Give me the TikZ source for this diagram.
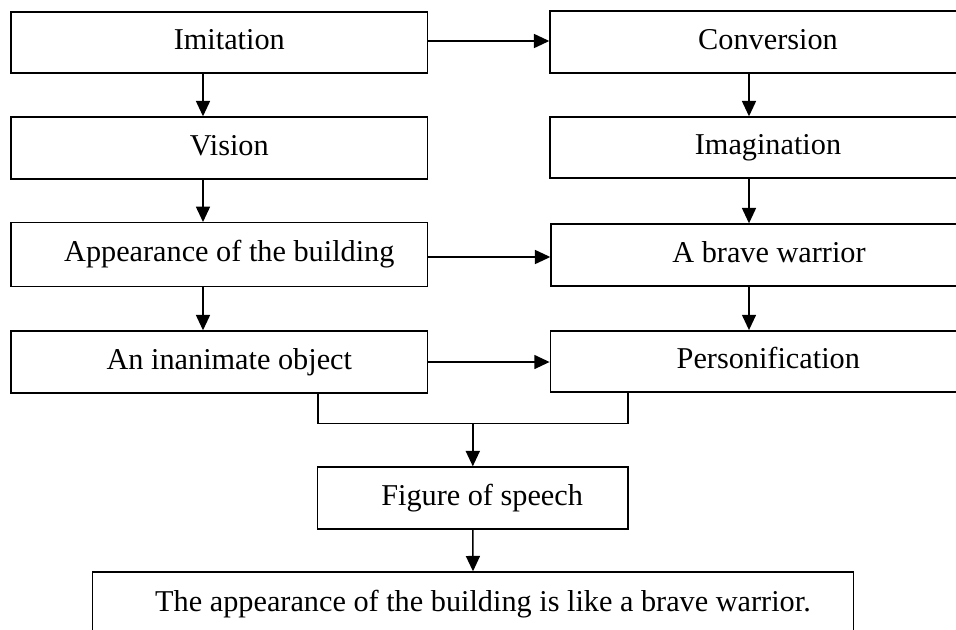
\documentclass[tikz,border=0pt]{standalone}
\usepackage{fontspec}
\setmainfont{Liberation Serif}
\usetikzlibrary{arrows.meta,calc}
\begin{document}
\begin{tikzpicture}[x=0.75pt,y=-0.75pt,
  box/.style={draw,line width=1.05pt,inner sep=0pt,minimum width=416.7*0.75pt,
    text height=15.5pt,text depth=5pt,font=\fontsize{22.7pt}{27pt}\selectfont},
  rbox/.style={box,minimum width=436*0.75pt},
  arr/.style={line width=1.15pt,-{Triangle[length=11.5pt,width=10.5pt]}},
  ln/.style={line width=1.05pt}]
\clip (0,0) rectangle (956,629);
\useasboundingbox (0,0) rectangle (956,629);
% left column
\node[box,minimum height=61*0.75pt] (imit) at (219.3,42.5) {\hspace*{15pt}Imitation};
\node[box,minimum height=62*0.75pt] (vis) at (219.3,148) {\hspace*{15pt}Vision};
\node[box,minimum height=64*0.75pt] (app) at (219.3,254.7) {\hspace*{15pt}Appearance of the building};
\node[box,minimum height=62*0.75pt] (inan) at (219.3,362) {\hspace*{15pt}An inanimate object};
% right column
\node[rbox,minimum height=62*0.75pt] (conv) at (768,42) {Conversion};
\node[rbox,minimum height=61*0.75pt] (imag) at (768,147.5) {Imagination};
\node[rbox,minimum height=62*0.75pt] (brave) at (769,255) {A brave warrior};
\node[rbox,minimum height=61*0.75pt] (pers) at (768.3,361.3) {Personification};
% bottom
\node[box,minimum width=310.3*0.75pt,minimum height=62*0.75pt] (fig) at (472.8,498) {\hspace*{14pt}Figure of speech};
\node[box,minimum width=761.4*0.75pt,minimum height=64*0.75pt] (bot) at (473,604) {\hspace*{15pt}The appearance of the building is like a brave warrior.};
% connectors
\draw[arr] ($(imit.east)+(0,-1.5)$) -- ($(imit.east -| conv.west)+(0,-1.5)$);
\draw[arr] ($(imit.south)+(-16.3,0)$) -- ($(vis.north)+(-16.3,0)$);
\draw[arr] ($(vis.south)+(-16.3,0)$) -- ($(app.north)+(-16.3,0)$);
\draw[arr] ($(app.south)+(-16.3,0)$) -- ($(inan.north)+(-16.3,0)$);
\draw[arr] ($(app.east)+(0,2.3)$) -- ($(app.east -| brave.west)+(0,2.3)$);
\draw[arr] (inan.east) -- (inan.east -| pers.west);
\draw[arr] ($(conv.south)+(-19,0)$) -- ($(imag.north)+(-19,0)$);
\draw[arr] ($(imag.south)+(-19,0)$) -- ($(brave.north)+(-20,0)$);
\draw[arr] ($(brave.south)+(-20,0)$) -- ($(pers.north)+(-19.3,0)$);
\coordinate (jn) at ($(fig.north)+(0,-43)$);
\draw[ln] ($(inan.south)+(98.7,0)$) |- (jn) -| ($(pers.south)+(-140.3,0)$);
\draw[arr] (jn) -- (fig.north);
\draw[arr] (fig.south) -- (bot.north);
\end{tikzpicture}
\end{document}
